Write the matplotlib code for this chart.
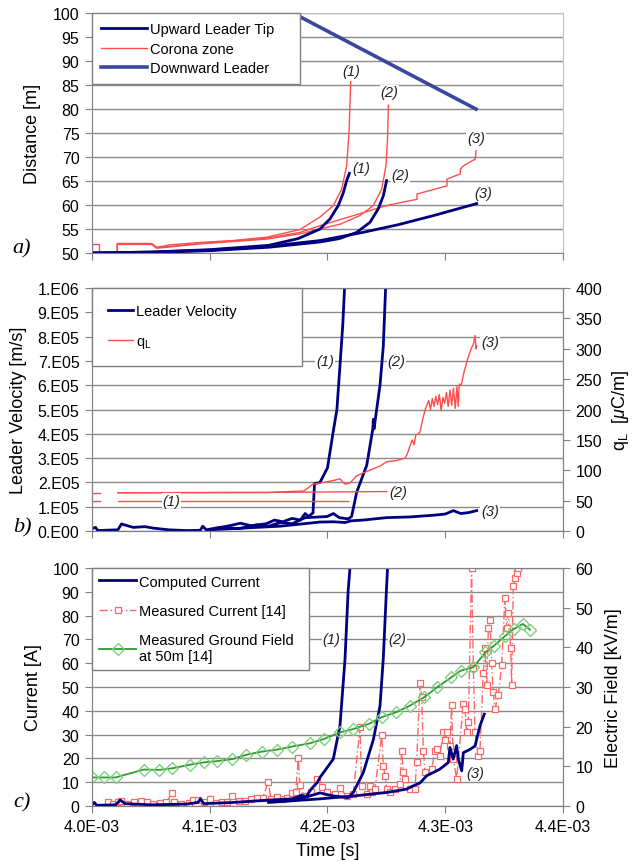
import matplotlib.pyplot as plt
import numpy as np

plt.rcParams['font.family'] = ['Liberation Sans', 'DejaVu Sans']
plt.rcParams['mathtext.fontset'] = 'custom'
plt.rcParams['mathtext.rm'] = 'Liberation Sans'
plt.rcParams['mathtext.it'] = 'Liberation Sans:italic'

# ---------------- data (time in ms, converted to s when plotted) ----------------
time_ticks = [4.0, 4.1, 4.2, 4.3, 4.4]
time_labels = ['4.0E-03', '4.1E-03', '4.2E-03', '4.3E-03', '4.4E-03']

# a) distances [m]
up1_t = [4.000, 4.050, 4.100, 4.150, 4.175, 4.1936, 4.2021, 4.2092, 4.2135, 4.2163, 4.2186]
up1_d = [50.0, 50.2, 50.7, 51.6, 53.0, 55.0, 57.1, 59.9, 62.6, 65.1, 66.6]
up2_t = [4.000, 4.050, 4.100, 4.150, 4.1936, 4.2100, 4.2248, 4.2361, 4.2431, 4.2474, 4.2502]
up2_d = [50.0, 50.1, 50.5, 51.2, 52.3, 53.0, 54.3, 56.4, 59.2, 61.9, 65.1]
up3_t = [4.000, 4.050, 4.100, 4.150, 4.1936, 4.230, 4.260, 4.290, 4.3267]
up3_d = [50.0, 50.2, 50.6, 51.4, 52.6, 54.3, 55.9, 57.8, 60.3]

dl_t = [4.1707, 4.3261]
dl_d = [100.0, 80.0]

blip_t = [4.000, 4.000, 4.006, 4.006]
blip_d = [50.0, 51.8, 51.8, 50.0]
cz1_t = [4.0215, 4.0215, 4.0507, 4.0549, 4.0662, 4.0917, 4.1199, 4.1484, 4.1766, 4.1936,
         4.2050, 4.2120, 4.2163, 4.2183, 4.2192, 4.2197]
cz1_d = [50.0, 52.0, 52.0, 51.2, 51.7, 52.2, 52.6, 53.3, 54.9, 57.5,
         59.9, 63.3, 68.2, 75.1, 82.0, 85.7]
cz2_t = [4.0215, 4.0215, 4.0507, 4.0549, 4.0917, 4.1484, 4.1766, 4.1936, 4.2106, 4.2276,
         4.2389, 4.2460, 4.2497, 4.2510, 4.2517]
cz2_d = [50.0, 51.8, 51.8, 51.0, 51.9, 52.9, 54.0, 55.0, 56.0, 57.8,
         59.9, 63.3, 68.2, 73.8, 80.8]
cz3_t = [4.0215, 4.0215, 4.0507, 4.0549, 4.0917, 4.1484, 4.1766, 4.1936, 4.2220, 4.2503,
         4.2760, 4.2760, 4.3015, 4.3015, 4.3128, 4.3128, 4.3157, 4.3256, 4.3261]
cz3_d = [50.0, 51.9, 51.9, 51.1, 52.0, 53.1, 54.3, 55.7, 57.8, 59.9,
         61.2, 62.3, 64.0, 65.4, 66.5, 67.5, 68.2, 69.6, 71.3]

# b) leader velocity [1e5 m/s] and q_L [uC/m]
vel1_t = [4.000, 4.003, 4.005, 4.022, 4.025, 4.035, 4.045, 4.052, 4.065, 4.080, 4.092, 4.094,
          4.097, 4.105, 4.115, 4.126, 4.135, 4.148, 4.155, 4.162, 4.170, 4.177, 4.181, 4.184,
          4.1877, 4.1890, 4.1936, 4.2000, 4.2049, 4.2080, 4.2106, 4.2130, 4.2149]
vel1_v = [0.10, 0.15, 0.02, 0.05, 0.29, 0.15, 0.18, 0.12, 0.05, 0.02, 0.03, 0.20,
          0.05, 0.12, 0.20, 0.32, 0.22, 0.30, 0.45, 0.38, 0.52, 0.45, 0.72, 0.60,
          0.75, 1.95, 2.00, 2.60, 4.10, 5.00, 6.80, 8.50, 10.4]
vel2_t = [4.100, 4.110, 4.125, 4.140, 4.150, 4.160, 4.170, 4.181, 4.1936, 4.200, 4.205, 4.210,
          4.2177, 4.2205, 4.2248, 4.2333, 4.2385, 4.2390, 4.2395, 4.2446, 4.2474, 4.2497]
vel2_v = [0.05, 0.15, 0.10, 0.25, 0.20, 0.35, 0.30, 0.55, 0.58, 0.60, 0.72, 0.55,
          0.50, 0.60, 1.60, 2.70, 4.20, 4.60, 4.20, 6.00, 7.60, 10.4]
vel3_t = [4.100, 4.120, 4.140, 4.160, 4.180, 4.1936, 4.205, 4.215, 4.220, 4.230, 4.250,
          4.270, 4.290, 4.300, 4.307, 4.313, 4.320, 4.3267]
vel3_v = [0.05, 0.10, 0.15, 0.20, 0.30, 0.37, 0.38, 0.35, 0.42, 0.45, 0.55,
          0.58, 0.65, 0.70, 0.84, 0.72, 0.76, 0.84]

qblip_t = [4.000, 4.007]
qblip1 = [50.0, 50.0]
qblip2 = [63.0, 63.0]
q1_t = [4.022, 4.2175]
q1_v = [50.0, 50.0]
q2_t = [4.022, 4.150, 4.2505]
q2_v = [63.0, 63.5, 65.0]
q3_t = [4.022, 4.150, 4.180, 4.1877, 4.1936, 4.2046, 4.2106, 4.2149, 4.2191, 4.2248,
        4.2333, 4.2446, 4.2502, 4.2588, 4.2660, 4.2684, 4.2700, 4.2720, 4.2735, 4.2750,
        4.2770, 4.2786, 4.2810, 4.2830, 4.2842, 4.2860, 4.2875, 4.2890, 4.2905, 4.2920,
        4.2935, 4.2950, 4.2965, 4.2980, 4.2995, 4.3010, 4.3025, 4.3040, 4.3055, 4.3070,
        4.3085, 4.3100, 4.3110, 4.3120, 4.3135, 4.3160, 4.3190, 4.3220, 4.3240, 4.3253,
        4.3262, 4.3267]
q3_v = [63.0, 63.5, 66.0, 77.0, 79.0, 83.0, 86.0, 77.0, 79.0, 91.0,
        98.0, 107.0, 114.0, 116.0, 120.0, 130.0, 140.0, 150.0, 142.0, 158.0,
        160.0, 163.0, 185.0, 200.0, 206.0, 215.0, 200.0, 218.0, 205.0, 222.0,
        208.0, 225.0, 198.0, 220.0, 210.0, 228.0, 205.0, 232.0, 207.0, 235.0,
        202.0, 238.0, 205.0, 242.0, 240.0, 262.0, 283.0, 300.0, 308.0, 322.0,
        300.0, 305.0]

# c) computed current [A]
cc1_t = [4.000, 4.002, 4.004, 4.020, 4.024, 4.028, 4.050, 4.080, 4.090, 4.092, 4.095, 4.120,
         4.150, 4.170, 4.178, 4.182, 4.186, 4.1915, 4.1936, 4.2049, 4.2106, 4.2149, 4.2175, 4.2191]
cc1_i = [0.5, 1.5, 0.3, 0.5, 2.5, 1.0, 0.5, 0.8, 1.5, 3.0, 1.0, 1.5,
         2.5, 3.0, 4.5, 4.0, 7.0, 10.0, 12.0, 19.7, 33.7, 61.8, 90.0, 100.0]
cc2_t = [4.150, 4.170, 4.180, 4.1936, 4.205, 4.2177, 4.2219, 4.2304, 4.2390, 4.2446, 4.2474,
         4.2500, 4.2510]
cc2_i = [2.0, 2.5, 3.5, 5.5, 4.2, 3.5, 5.7, 14.0, 28.0, 42.0, 62.0, 90.0, 100.0]
cc3_t = [4.150, 4.1936, 4.2219, 4.2503, 4.2672, 4.2729, 4.2786, 4.2842, 4.2899, 4.2955,
         4.3026, 4.3040, 4.3068, 4.3097, 4.3111, 4.3140, 4.3154, 4.3210, 4.3253, 4.3295, 4.3332]
cc3_i = [1.5, 3.0, 4.2, 5.7, 7.1, 8.5, 9.7, 12.7, 14.1, 15.5,
         18.3, 24.6, 19.7, 25.4, 19.7, 14.8, 22.4, 23.8, 25.2, 33.7, 38.6]

# c) measured current [A]
mc_t = [4.0140, 4.0180, 4.0220, 4.0250, 4.0300, 4.0360, 4.0420, 4.0470, 4.0520, 4.0580,
        4.0630, 4.0680, 4.0700, 4.0760, 4.0820, 4.0860, 4.0900, 4.0950, 4.1000, 4.1050,
        4.1100, 4.1150, 4.1190, 4.1250, 4.1300, 4.1350, 4.1400, 4.1450, 4.1497, 4.1520,
        4.1570, 4.1620, 4.1660, 4.1700, 4.1730, 4.1752, 4.1765, 4.1800, 4.1860, 4.1915,
        4.1950, 4.1993, 4.2064, 4.2106, 4.2163, 4.2219, 4.2276, 4.2290, 4.2333, 4.2361,
        4.2375, 4.2403, 4.2460, 4.2474, 4.2488, 4.2503, 4.2531, 4.2573, 4.2616, 4.2630,
        4.2644, 4.2658, 4.2701, 4.2743, 4.2757, 4.2786, 4.2800, 4.2814, 4.2828, 4.2885,
        4.2913, 4.2927, 4.2955, 4.2984, 4.2998, 4.3012, 4.3040, 4.3054, 4.3069, 4.3097,
        4.3154, 4.3168, 4.3182, 4.3196, 4.3224, 4.3239, 4.3253, 4.3281, 4.3295, 4.3323,
        4.3338, 4.3352, 4.3366, 4.3380, 4.3394, 4.3408, 4.3422, 4.3451, 4.3479, 4.3507,
        4.3522, 4.3536, 4.3556, 4.3564, 4.3578, 4.3592, 4.3606, 4.3620]
mc_i = [1.5, 0.8, 1.5, 2.0, 1.0, 1.5, 2.2, 1.5, 1.0, 1.2,
        1.5, 5.5, 1.5, 1.0, 1.2, 2.5, 2.5, 1.5, 2.8, 1.2,
        1.5, 1.8, 4.0, 2.2, 2.0, 3.0, 3.2, 3.5, 10.0, 3.0,
        3.8, 2.8, 3.5, 5.5, 6.0, 20.0, 9.0, 4.2, 6.0, 11.4,
        8.0, 5.8, 5.1, 7.5, 4.1, 5.1, 33.2, 8.6, 5.1, 8.6,
        5.8, 7.2, 29.7, 17.0, 12.8, 7.2, 5.8, 7.2, 9.3, 23.3,
        14.2, 11.4, 7.2, 7.2, 18.4, 51.5, 45.9, 23.3, 14.2, 15.6,
        23.3, 24.1, 21.2, 31.1, 27.6, 31.1, 25.4, 42.3, 19.8, 11.4,
        43.0, 40.9, 31.1, 35.3, 100.0, 57.8, 31.1, 21.2, 23.3, 55.7,
        66.2, 50.8, 74.7, 78.2, 59.9, 48.0, 40.9, 46.5, 59.2, 87.3,
        74.7, 81.0, 66.2, 50.8, 92.3, 95.8, 97.9, 100.0]

# c) measured ground field [kV/m]
gf_t = [4.000, 4.010, 4.020, 4.044, 4.057, 4.068, 4.083, 4.095, 4.106, 4.119, 4.131, 4.144,
        4.157, 4.170, 4.185, 4.197, 4.211, 4.222, 4.235, 4.246, 4.258, 4.270, 4.282, 4.293,
        4.305, 4.313, 4.324, 4.334, 4.341, 4.351, 4.358, 4.366, 4.372]
gf_e = [7.2, 7.2, 7.2, 9.2, 9.1, 9.5, 10.4, 11.0, 11.3, 11.8, 12.9, 13.7,
        14.2, 15.0, 15.8, 16.9, 18.6, 19.4, 20.7, 22.4, 23.6, 25.3, 27.4, 29.9,
        32.4, 34.1, 35.0, 38.7, 40.3, 42.9, 44.6, 45.9, 44.4]

dist_ticks = list(range(50, 101, 5))
vel_ticks = [0, 1e5, 2e5, 3e5, 4e5, 5e5, 6e5, 7e5, 8e5, 9e5, 1e6]
vel_labels = ['0.E00', '1.E05', '2.E05', '3.E05', '4.E05', '5.E05', '6.E05', '7.E05',
              '8.E05', '9.E05', '1.E06']
q_ticks = list(range(0, 401, 50))
cur_ticks = list(range(0, 101, 10))
field_ticks = list(range(0, 61, 10))

# ---------------- styling ----------------
NAVY = '#000080'
RED = '#ff4d4d'
MRED = '#ff6666'
GREEN = '#339933'
GRID = '#8a8a8a'
SPINE = '#808080'
TICK_FS = 11.5
LAB_FS = 13
LEG_FS = 10.5


def s(t):
    return np.asarray(t) * 1e-3


def base(ax, yticks, ylim, ylabels=None, xlabels=False):
    ax.set_xlim(4.0e-3, 4.4e-3)
    ax.set_ylim(*ylim)
    ax.set_xticks(s(time_ticks))
    ax.set_xticklabels(time_labels if xlabels else [])
    ax.set_yticks(yticks)
    if ylabels is not None:
        ax.set_yticklabels(ylabels)
    ax.yaxis.grid(True, color=GRID, lw=1.0)
    ax.set_axisbelow(True)
    ax.tick_params(direction='out', length=5, color=SPINE, labelsize=TICK_FS, pad=4)
    for sp in ax.spines.values():
        sp.set_color(SPINE)


def lab(ax, x, y, txt, color='#222222'):
    ax.text(x * 1e-3, y, txt, fontsize=10.5, style='italic', color=color,
            ha='center', va='center', zorder=6,
            bbox=dict(facecolor='white', edgecolor='none', pad=0.5))


def legend(ax, handles, labels, **kw):
    lg = ax.legend(handles, labels, loc='upper left', bbox_to_anchor=(0, 1),
                   borderaxespad=0, fancybox=False, framealpha=1,
                   edgecolor=SPINE, fontsize=LEG_FS, **kw)
    lg.get_frame().set_linewidth(1.0)
    lg.set_zorder(10)
    return lg


fig = plt.figure(figsize=(6.38, 8.62), dpi=100)

# ---------------- a) ----------------
ax = fig.add_axes([0.1442, 0.7053, 0.7382, 0.2784])
base(ax, dist_ticks, (50, 100))
ax.spines['top'].set_color('#c0c0c0')
ax.spines['right'].set_color('#c0c0c0')
ax.plot(s(blip_t), blip_d, color=RED, lw=1)
hc, = ax.plot(s(cz1_t), cz1_d, color=RED, lw=1)
ax.plot(s(cz2_t), cz2_d, color=RED, lw=1)
ax.plot(s(cz3_t), cz3_d, color=RED, lw=1)
hu, = ax.plot(s(up1_t), up1_d, color=NAVY, lw=2)
ax.plot(s(up2_t), up2_d, color=NAVY, lw=2)
ax.plot(s(up3_t), up3_d, color=NAVY, lw=2)
hd, = ax.plot(s(dl_t), dl_d, color='#3a47a0', lw=2.6)
ax.set_ylabel('Distance [m]', fontsize=LAB_FS)
ax.yaxis.set_label_coords(-0.108, 0.5)
lab(ax, 4.2200, 88.0, '(1)')
lab(ax, 4.2525, 83.5, '(2)')
lab(ax, 4.3262, 74.0, '(3)')
lab(ax, 4.2290, 67.7, '(1)')
lab(ax, 4.2620, 66.2, '(2)')
lab(ax, 4.3320, 62.6, '(3)')
legend(ax, [hu, hc, hd],
       ['Upward Leader Tip    ', 'Corona zone', 'Downward Leader'],
       handlelength=3.2, handletextpad=0.2, labelspacing=0.4, borderpad=0.6)

# ---------------- b) ----------------
ax = fig.add_axes([0.1442, 0.3828, 0.7382, 0.2819])
base(ax, vel_ticks, (0, 1e6), vel_labels)
ax2 = ax.twinx()
ax2.set_ylim(0, 400)
ax2.set_yticks(q_ticks)
ax2.tick_params(direction='out', length=5, color=SPINE, labelsize=TICK_FS, pad=4)
for sp in ax2.spines.values():
    sp.set_color(SPINE)
ax2.plot(s(qblip_t), qblip1, color=RED, lw=1)
ax2.plot(s(qblip_t), qblip2, color=RED, lw=1)
ax2.plot(s(q1_t), q1_v, color=RED, lw=1)
ax2.plot(s(q2_t), q2_v, color=RED, lw=1)
hq, = ax2.plot(s(q3_t), q3_v, color=RED, lw=1)
hv, = ax.plot(s(vel1_t), np.asarray(vel1_v) * 1e5, color=NAVY, lw=2)
ax.plot(s(vel2_t), np.asarray(vel2_v) * 1e5, color=NAVY, lw=2)
ax.plot(s(vel3_t), np.asarray(vel3_v) * 1e5, color=NAVY, lw=2)
ax.set_ylabel('Leader Velocity [m/s]', fontsize=LAB_FS)
ax.yaxis.set_label_coords(-0.137, 0.5)
ax2.set_ylabel(r'q$_\mathregular{L}$  [$\mu$C/m]', fontsize=LAB_FS)
ax2.yaxis.set_label_coords(1.10, 0.5)
lab(ax, 4.1979, 7.0e5, '(1)')
lab(ax, 4.2588, 7.0e5, '(2)')
lab(ax, 4.3380, 0.84e5, '(3)')
lab(ax2, 4.0677, 50, '(1)')
lab(ax2, 4.2602, 65, '(2)')
lab(ax2, 4.3380, 311, '(3)')
legend(ax2, [hv, hq], ['Leader Velocity' + ' ' * 12, r'q$_\mathregular{L}$'],
       handlelength=1.7, handletextpad=0.2, labelspacing=1.1, borderpad=1.1)

# ---------------- c) ----------------
ax = fig.add_axes([0.1442, 0.0638, 0.7382, 0.2761])
base(ax, cur_ticks, (0, 100), xlabels=True)
ax2 = ax.twinx()
ax2.set_ylim(0, 60)
ax2.set_yticks(field_ticks)
ax2.tick_params(direction='out', length=5, color=SPINE, labelsize=TICK_FS, pad=4)
for sp in ax2.spines.values():
    sp.set_color(SPINE)
hm, = ax.plot(s(mc_t), mc_i, color=MRED, lw=1, ls=(0, (6, 2, 1, 2)), marker='s',
              ms=4, mfc='white', mec=MRED, mew=0.9, zorder=3)
hcc, = ax.plot(s(cc1_t), cc1_i, color=NAVY, lw=2, zorder=4)
ax.plot(s(cc2_t), cc2_i, color=NAVY, lw=2, zorder=4)
ax.plot(s(cc3_t), cc3_i, color=NAVY, lw=2, zorder=4)
hg, = ax2.plot(s(gf_t), gf_e, color=GREEN, lw=1.3, marker='D', ms=6.5, mfc='none',
               mec='#7fd07f', mew=1.0)
ax.set_ylabel('Current [A]', fontsize=LAB_FS)
ax.yaxis.set_label_coords(-0.106, 0.5)
ax2.set_ylabel('Electric Field [kV/m]', fontsize=LAB_FS)
ax2.yaxis.set_label_coords(1.089, 0.5)
ax.set_xlabel('Time [s]', fontsize=LAB_FS, labelpad=6)
lab(ax, 4.2036, 70, '(1)')
lab(ax, 4.2593, 70, '(2)')
lab(ax, 4.3253, 14, '(3)')
legend(ax2, [hcc, hm, hg],
       ['Computed Current', 'Measured Current [14]', 'Measured Ground Field  \nat 50m [14]'],
       handlelength=2.6, handletextpad=0.2, labelspacing=1.05, borderpad=0.45)

# panel letters
for y, t in [(0.711, 'a)'), (0.3875, 'b)'), (0.0684, 'c)')]:
    fig.text(0.0345, y, t, fontsize=16, style='italic', family='Liberation Serif',
             ha='center', va='center')

fig.savefig('out.png', dpi=100)
